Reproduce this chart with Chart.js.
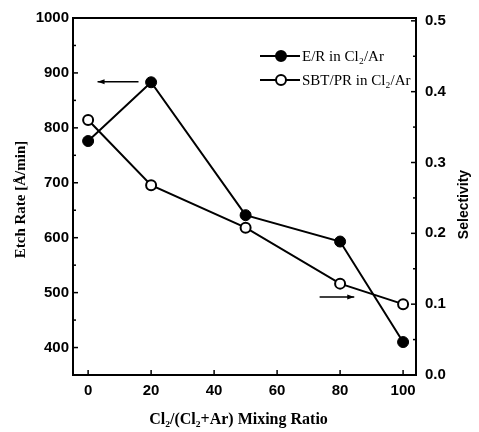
<!DOCTYPE html>
<html lang="en">
<head>
  <meta charset="UTF-8">
  <title>Etch rate and selectivity</title>
  <style>
    html, body { margin: 0; padding: 0; background: #fff; }
    #wrap { width: 479px; height: 432px; }
  </style>
</head>
<body>
  <div id="wrap"><canvas id="myChart"></canvas></div>

  <script src="https://cdn.jsdelivr.net/npm/chart.js"></script>
  <script>
    // data
    const ratio = [0, 20, 50, 80, 100];
    const etchRate = [776, 883, 641, 593, 410];
    const selectivity = [0.360, 0.268, 0.208, 0.129, 0.100];

    const ratioTicks = [0, 20, 40, 60, 80, 100];
    const rateTicks = [400, 500, 600, 700, 800, 900, 1000];
    const rateMinor = [450, 550, 650, 750, 850, 950];
    const selTicks = [0, 0.1, 0.2, 0.3, 0.4, 0.5];
    const selMinor = [0.05, 0.15, 0.25, 0.35, 0.45];

    const seriesNames = ['E/R in Cl\u2082/Ar', 'SBT/PR in Cl\u2082/Ar'];
    const xTitle = 'Cl\u2082/(Cl\u2082+Ar) Mixing Ratio';
    const yTitle = 'Etch Rate [\u00c5/min]';
    const y2Title = 'Selectivity';

    // arrows pointing to the axis each curve belongs to (data coords)
    const rateArrow = { y: 884, from: 16, to: 3 };
    const selArrow = { y: 0.110, from: 73.5, to: 84.5 };

    const tickFont = { family: '"Liberation Sans", Arial, sans-serif', size: 15, weight: 'bold' };

    const decor = {
      id: 'decor',
      afterDraw(chart) {
        const { ctx, chartArea: a, scales } = chart;
        const sx = scales.x, sy = scales.y, sy2 = scales.y2;
        ctx.save();
        ctx.strokeStyle = '#000';
        ctx.fillStyle = '#000';

        ctx.lineWidth = 2;
        ctx.strokeRect(a.left, a.top, a.right - a.left, a.bottom - a.top);

        const line = (x1, y1, x2, y2) => {
          ctx.beginPath(); ctx.moveTo(x1, y1); ctx.lineTo(x2, y2); ctx.stroke();
        };
        ctx.lineWidth = 1.5;
        rateTicks.forEach(v => { const y = sy.getPixelForValue(v); line(a.left, y, a.left + 5, y); });
        rateMinor.forEach(v => { const y = sy.getPixelForValue(v); line(a.left, y, a.left + 3, y); });
        selTicks.forEach(v => { const y = sy2.getPixelForValue(v); line(a.right, y, a.right - 5, y); });
        selMinor.forEach(v => { const y = sy2.getPixelForValue(v); line(a.right, y, a.right - 3, y); });
        ratioTicks.forEach(v => { const x = sx.getPixelForValue(v); line(x, a.bottom, x, a.bottom - 5); });

        // arrows
        const arrow = (x1, x2, y) => {
          ctx.lineWidth = 1.5;
          line(x1, y, x2, y);
          const d = Math.sign(x2 - x1);
          ctx.beginPath();
          ctx.moveTo(x2, y);
          ctx.lineTo(x2 - d * 7, y - 2.5);
          ctx.lineTo(x2 - d * 7, y + 2.5);
          ctx.closePath();
          ctx.fill();
        };
        arrow(sx.getPixelForValue(rateArrow.from), sx.getPixelForValue(rateArrow.to), sy.getPixelForValue(rateArrow.y));
        arrow(sx.getPixelForValue(selArrow.from), sx.getPixelForValue(selArrow.to), sy2.getPixelForValue(selArrow.y));

        // legend
        const lx = a.right - 156, rowY = [a.top + 38, a.top + 62];
        ctx.font = '15px "Liberation Serif", "Times New Roman", serif';
        ctx.textBaseline = 'middle';
        ctx.textAlign = 'left';
        rowY.forEach((y, i) => {
          ctx.lineWidth = 2;
          line(lx, y, lx + 40, y);
          ctx.beginPath();
          ctx.arc(lx + 21, y, 5, 0, Math.PI * 2);
          ctx.fillStyle = i === 0 ? '#000' : '#fff';
          ctx.fill();
          ctx.stroke();
          ctx.fillStyle = '#000';
          ctx.fillText(seriesNames[i], lx + 42, y + 1);
        });

        // axis titles
        const midY = (a.top + a.bottom) / 2;
        ctx.textAlign = 'center';
        ctx.font = 'bold 16px "Liberation Serif", "Times New Roman", serif';
        ctx.fillText(xTitle, (a.left + a.right) / 2 - 6, 420);
        ctx.save();
        ctx.font = 'bold 15px "Liberation Serif", "Times New Roman", serif';
        ctx.translate(21, midY + 3);
        ctx.rotate(-Math.PI / 2);
        ctx.fillText(yTitle, 0, 0);
        ctx.restore();
        ctx.save();
        ctx.font = 'bold 14px "Liberation Sans", Arial, sans-serif';
        ctx.translate(464, midY + 8);
        ctx.rotate(-Math.PI / 2);
        ctx.fillText(y2Title, 0, 0);
        ctx.restore();

        ctx.restore();
      }
    };

    const ctx = document.getElementById('myChart');

    new Chart(ctx, {
      type: 'scatter',
      data: {
        datasets: [
          {
            label: seriesNames[0],
            data: ratio.map((x, i) => ({ x, y: etchRate[i] })),
            yAxisID: 'y',
            showLine: true,
            borderColor: '#000',
            borderWidth: 2,
            pointRadius: 5.5,
            pointBackgroundColor: '#000',
            pointBorderColor: '#000',
            pointBorderWidth: 1
          },
          {
            label: seriesNames[1],
            data: ratio.map((x, i) => ({ x, y: selectivity[i] })),
            yAxisID: 'y2',
            showLine: true,
            borderColor: '#000',
            borderWidth: 2,
            pointRadius: 5,
            pointBackgroundColor: '#fff',
            pointBorderColor: '#000',
            pointBorderWidth: 2
          }
        ]
      },
      options: {
        responsive: true,
        maintainAspectRatio: false,
        animation: false,
        layout: { padding: { top: 10, left: 0, right: 0, bottom: 0 } },
        plugins: { legend: { display: false }, tooltip: { enabled: false } },
        scales: {
          x: {
            type: 'linear',
            min: -4.8,
            max: 104.1,
            afterBuildTicks: s => { s.ticks = ratioTicks.map(v => ({ value: v })); },
            afterFit: s => { s.height = 57; },
            grid: { display: false, drawTicks: false },
            border: { display: false },
            ticks: { color: '#000', font: tickFont, padding: 7, maxRotation: 0, callback: v => String(v) }
          },
          y: {
            position: 'left',
            min: 350,
            max: 1000,
            afterBuildTicks: s => { s.ticks = rateTicks.map(v => ({ value: v })); },
            afterFit: s => { s.width = 73; },
            grid: { display: false, drawTicks: false },
            border: { display: false },
            ticks: { color: '#000', font: tickFont, padding: 4, callback: v => String(v) }
          },
          y2: {
            position: 'right',
            min: 0,
            max: 0.504,
            afterBuildTicks: s => { s.ticks = selTicks.map(v => ({ value: v })); },
            afterFit: s => { s.width = 63; },
            grid: { display: false, drawTicks: false },
            border: { display: false },
            ticks: { color: '#000', font: tickFont, padding: 9, callback: v => v.toFixed(1) }
          }
        }
      },
      plugins: [decor]
    });
  </script>
</body>
</html>
